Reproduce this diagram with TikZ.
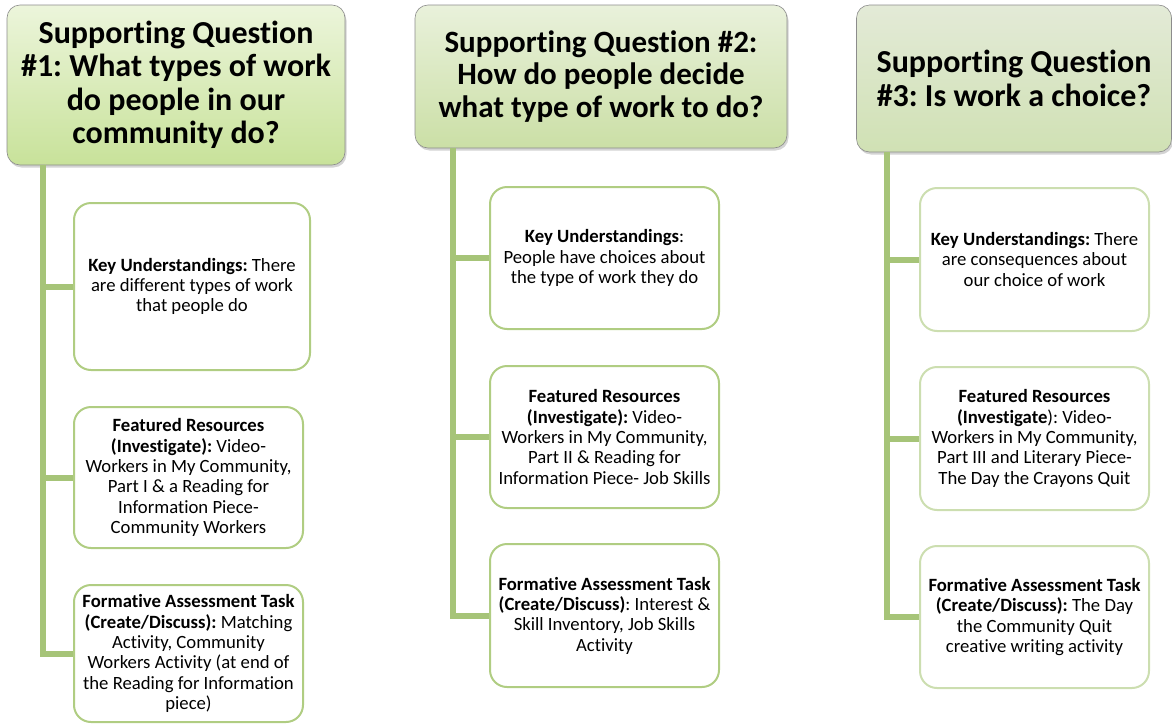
\documentclass[tikz,border=0pt]{standalone}
\usepackage{fontspec}
\setmainfont{Carlito}[Ligatures=NoCommon]
\frenchspacing
\usetikzlibrary{shadows}
\definecolor{stemgreen}{RGB}{166,196,120}
\definecolor{boxgreen}{RGB}{176,205,130}
\definecolor{palegreen}{RGB}{204,222,176}
\tikzset{question/.style={
    rounded corners=13pt, draw=black!45, line width=0.6pt,
    align=center, inner sep=0pt,
    font=\fontsize{32}{33.5}\selectfont\bfseries,
    drop shadow={opacity=0.35, shadow xshift=1.5pt, shadow yshift=-2.5pt}
  }
}
\tikzset{infobox/.style={
    rounded corners=17pt, draw=boxgreen, line width=2pt, fill=white,
    align=center, inner sep=0pt, minimum width=229pt,
    font=\fontsize{18.7}{20.3}\selectfont
  }
}
\tikzset{stem/.style={draw=stemgreen, line width=6pt}}

\begin{document}
\begin{tikzpicture}[x=1pt, y=-1pt]
    \useasboundingbox (0,0) rectangle (1172,723);
    % question headers
    \node[question, top color={rgb,255:red,236;green,245;blue,219}, bottom color={rgb,255:red,200;green,226;blue,154},
      minimum width=338pt, minimum height=160pt] (q1) at (176,85)
      {Supporting Question\\\#1: What types of work\\do people in our\\community do?};
    \node[question, font=\fontsize{31}{32.5}\selectfont\bfseries,
      top color={rgb,255:red,233;green,241;blue,219}, bottom color={rgb,255:red,203;green,223;blue,166},
      minimum width=372pt, minimum height=143pt] (q2) at (601,76.5)
      {Supporting Question \#2:\\How do people decide\\what type of work to do?};
    \node[question, top color={rgb,255:red,227;green,234;blue,215}, bottom color={rgb,255:red,208;green,225;blue,180},
      minimum width=315pt, minimum height=147pt] (q3) at (1014,78.5)
      {Supporting Question\\\#3: Is work a choice?};
    % column 1
    \node[infobox, minimum width=236pt, minimum height=167pt] (k1) at (192,286.5)
      {\textbf{Key Understandings:} There\\are different types of work\\that people do};
    \node[infobox, minimum height=141pt] (f1) at (188.5,477.5)
      {\textbf{Featured Resources}\\\textbf{(Investigate):} Video-\\Workers in My Community,\\Part I \& a Reading for\\Information Piece-\\Community Workers};
    \node[infobox, minimum height=137pt] (t1) at (188.5,653.5)
      {\textbf{Formative Assessment Task}\\\textbf{(Create/Discuss):} Matching\\Activity, Community\\Workers Activity (at end of\\the Reading for Information\\piece)};
    % column 2
    \node[infobox, minimum height=142pt] (k2) at (604.5,258)
      {\textbf{Key Understandings}:\\People have choices about\\the type of work they do};
    \node[infobox, minimum height=142pt] (f2) at (604.5,437)
      {\textbf{Featured Resources}\\\textbf{(Investigate):} Video-\\Workers in My Community,\\Part II \& Reading for\\Information Piece- Job Skills};
    \node[infobox, minimum height=143pt] (t2) at (604.5,615.5)
      {\textbf{Formative Assessment Task}\\\textbf{(Create/Discuss)}: Interest \&\\Skill Inventory, Job Skills\\Activity};
    % column 3
    \node[infobox, draw=palegreen, minimum height=143pt] (k3) at (1034.5,259.5)
      {\textbf{Key Understandings:} There\\are consequences about\\our choice of work};
    \node[infobox, draw=palegreen, minimum height=143pt] (f3) at (1034.5,438.5)
      {\textbf{Featured Resources}\\\textbf{(Investigate}): Video-\\Workers in My Community,\\Part III and Literary Piece-\\The Day the Crayons Quit};
    \node[infobox, draw=palegreen, minimum height=142pt] (t3) at (1034.5,617)
      {\textbf{Formative Assessment Task}\\\textbf{(Create/Discuss):} The Day\\the Community Quit\\creative writing activity};
    % stems
    \coordinate (s1) at ([xshift=36pt]q1.south west);
    \coordinate (s2) at ([xshift=38pt]q2.south west);
    \coordinate (s3) at ([xshift=31pt]q3.south west);
    \foreach \c in {1,2,3} {
      \draw[stem] (s\c) |- (t\c.west);
      \draw[stem] (s\c |- k\c.west) -- (k\c.west);
      \draw[stem] (s\c |- f\c.west) -- (f\c.west);
    }
\end{tikzpicture}
\end{document}
